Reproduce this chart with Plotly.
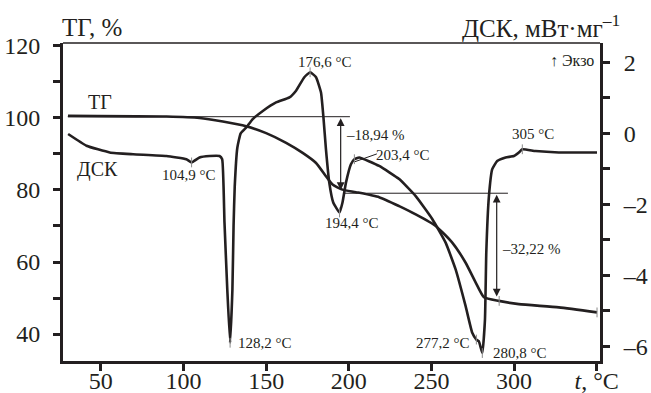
import plotly.graph_objects as go

# ---------------- data ----------------
tg_t = [30.1, 89.8, 109.7, 123.8, 137.9, 150.0, 162.1, 172.1, 180.2, 186.2, 190.2,
        196.2, 204.3, 218.4, 230.5, 240.5, 252.6, 262.6, 270.7, 276.8, 281.8,
        290.8, 302.9, 327.1, 350.2]
tg_v = [100.6, 100.4, 100.0, 99.0, 97.7, 95.8, 93.1, 90.3, 87.5, 83.8, 81.5,
        80.1, 79.4, 78.0, 75.5, 73.2, 70.0, 65.4, 59.8, 54.3, 50.2,
        49.2, 48.3, 47.4, 46.0]

dsc_t = [30.2, 41.3, 55.4, 69.5, 89.6, 101.7, 104.9, 109.7, 115.8, 121.8, 123.4,
         124.8, 126.5, 128.2, 129.6, 130.3, 131.0, 132.6, 134.6, 137.9, 141.9,
         148.0, 156.0, 164.1, 168.1, 173.1, 176.6, 180.2, 183.2, 184.6, 186.2,
         188.2, 190.6, 194.4, 196.2, 198.3, 201.3, 203.4, 206.3, 218.4, 230.5,
         240.5, 250.6, 258.6, 264.7, 270.7, 274.7, 277.2, 278.7, 280.8, 282.4,
         283.2, 284.8, 286.8, 289.8, 294.9, 299.9, 302.9, 305.0, 313.0, 327.1, 350.2]
dsc_v = [-0.02, -0.35, -0.54, -0.59, -0.64, -0.73, -0.82, -0.68, -0.64, -0.64, -0.73,
         -2.51, -4.40, -5.90, -4.40, -2.60, -1.50, -0.40, 0.00, 0.16, 0.40,
         0.63, 0.87, 1.01, 1.20, 1.58, 1.72, 1.58, 1.15, 0.49, -0.45,
         -1.39, -1.95, -2.23, -1.95, -1.39, -0.87, -0.73, -0.68, -0.92, -1.29,
         -1.77, -2.42, -3.08, -3.84, -4.87, -5.62, -5.81, -5.86, -6.19, -5.25,
         -3.36, -1.77, -1.01, -0.78, -0.68, -0.64, -0.54, -0.45, -0.50, -0.54, -0.54]

dsc_mark_t = [104.9, 128.2, 176.6, 194.4, 203.4, 277.2, 280.8, 305.0]
dsc_mark_v = [-0.82, -5.90, 1.72, -2.23, -0.73, -5.81, -6.19, -0.45]
tg_mark_t = [291.0, 350.2]
tg_mark_v = [49.2, 46.0]

x_ticks = [50, 100, 150, 200, 250, 300, 350]
x_labels = ["50", "100", "150", "200", "250", "300", "<i>t</i>, °C"]
tg_ticks = [40, 50, 60, 70, 80, 90, 100, 110, 120]
tg_labels = ["40", "", "60", "", "80", "", "100", "", "120"]
dsc_ticks = [-6, -5, -4, -3, -2, -1, 0, 1, 2]
dsc_labels = ["–6", "", "–4", "", "–2", "", "0", "", "2"]

# step lines / arrows (TG axis)
step1_level, step1_from, step1_to = 100.36, 80.0, 100.36
step2_level, step2_from, step2_to = 79.1, 50.4, 79.1

# ---------------- layout helpers ----------------
W, H = 651, 393
L, R, T, B = 63, 600, 43, 361
INK = "#231f20"
FONT = "Liberation Serif"


def px(x):
    return (x - L) / (R - L)


def py(y):
    return (B - y) / (B - T)


fig = go.Figure()
fig.add_trace(go.Scatter(x=tg_t, y=tg_v, mode="lines", yaxis="y",
                         line=dict(color=INK, width=2.6, shape="spline", smoothing=0.5),
                         showlegend=False, hoverinfo="skip"))
fig.add_trace(go.Scatter(x=dsc_t, y=dsc_v, mode="lines", yaxis="y2",
                         line=dict(color=INK, width=2.6, shape="spline", smoothing=0.4),
                         showlegend=False, hoverinfo="skip"))
mk = dict(symbol="line-ns", size=7, color="#8a8a8a", line=dict(color="#8a8a8a", width=1))
fig.add_trace(go.Scatter(x=dsc_mark_t, y=dsc_mark_v, mode="markers", yaxis="y2",
                         marker=mk, showlegend=False, hoverinfo="skip"))
fig.add_trace(go.Scatter(x=tg_mark_t, y=tg_mark_v, mode="markers", yaxis="y",
                         marker=mk, showlegend=False, hoverinfo="skip"))

axis_common = dict(showgrid=False, zeroline=False, showline=True, linecolor=INK,
                   linewidth=3, ticks="outside", ticklen=7, tickwidth=2.5,
                   tickcolor=INK, automargin=False,
                   tickfont=dict(family=FONT, size=24, color=INK))

fig.update_layout(
    width=W, height=H,
    margin=dict(l=L, r=W - R, t=T, b=H - B, pad=0, autoexpand=False),
    paper_bgcolor="white", plot_bgcolor="white",
    xaxis=dict(range=[27.1, 352], tickmode="array", tickvals=x_ticks,
               ticktext=x_labels, ticklabelstandoff=-11, **axis_common),
    yaxis=dict(range=[32.5, 120.83], tickmode="array", tickvals=tg_ticks,
               ticktext=tg_labels, ticklabelstandoff=8, **axis_common),
    yaxis2=dict(range=[-6.414, 2.544], overlaying="y", side="right",
                tickmode="array", tickvals=dsc_ticks, ticktext=dsc_labels,
                ticklabelstandoff=9, **axis_common),
    showlegend=False,
)

shapes = [
    dict(type="line", xref="paper", yref="paper", x0=0, x1=1, y0=1, y1=1,
         line=dict(color=INK, width=1.6)),
    dict(type="line", xref="x", yref="y", x0=30, x1=200.7,
         y0=step1_level, y1=step1_level, line=dict(color=INK, width=1)),
    dict(type="line", xref="x", yref="y", x0=196.5, x1=296.3,
         y0=step2_level, y1=step2_level, line=dict(color=INK, width=1)),
    dict(type="line", xref="x", yref="y2", x0=203.7, x1=217.0,
         y0=-0.80, y1=-0.58, line=dict(color=INK, width=1)),
]
fig.update_layout(shapes=shapes)

ann = []
for xa, y0, y1 in [(195.1, step1_from, step1_to), (289.5, step2_from, step2_to)]:
    ann.append(dict(x=xa, y=y0, ax=xa, ay=y1, xref="x", yref="y", axref="x", ayref="y",
                    text="", showarrow=True, arrowhead=2, arrowside="end+start",
                    arrowsize=1.3, arrowwidth=1.2, arrowcolor=INK,
                    standoff=0, startstandoff=0))


def txt(s, x, y, size=15, xanchor="center"):
    ann.append(dict(text=s, x=px(x), y=py(y), xref="paper", yref="paper",
                    xanchor=xanchor, yanchor="middle", showarrow=False,
                    font=dict(family=FONT, size=size, color=INK)))


txt("ТГ, %", 92, 27, size=25)
txt("ДСК, мВт·мг<sup>–1</sup>", 622, 26, size=25, xanchor="right")
txt("ТГ", 100, 102, size=20)
txt("ДСК", 97, 169, size=20)
txt("104,9 °C", 189, 175)
txt("176,6 °C", 325, 62)
txt("–18,94 %", 344, 135, xanchor="left")
txt("203,4 °C", 403, 155)
txt("305 °C", 533, 134)
txt("194,4 °C", 352, 223)
txt("128,2 °C", 265, 343)
txt("277,2 °C", 443, 343)
txt("280,8 °C", 520, 353)
txt("–32,22 %", 531, 249)
txt("↑ Экзо", 572, 60, size=16)

fig.update_layout(annotations=ann)
fig.write_html("out.html", config={"displayModeBar": False},
               post_script="document.body.style.margin='0px';")
